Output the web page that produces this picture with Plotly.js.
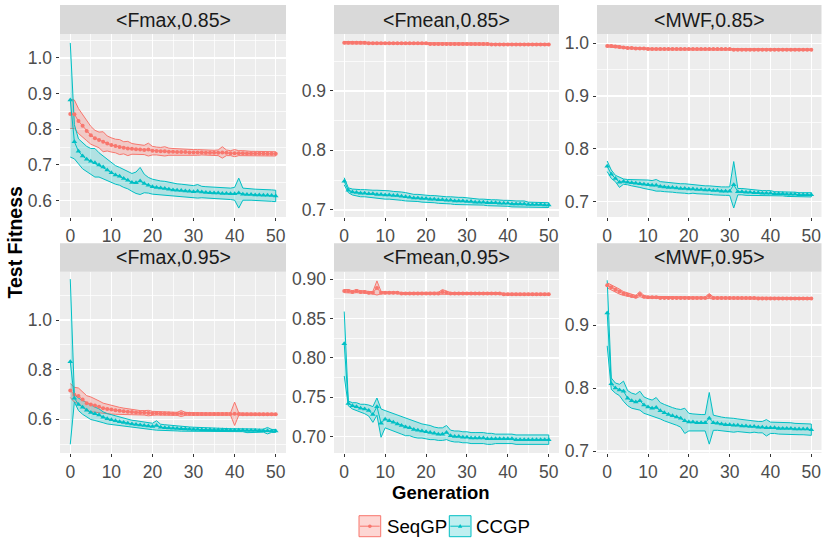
<!DOCTYPE html>
<html>
<head>
<meta charset="utf-8">
<script src="https://cdn.plot.ly/plotly-3.0.1.min.js"></script>
<style>html,body{margin:0;padding:0;background:#fff;}#chart{width:822px;height:541px;}</style>
</head>
<body>
<div id="chart"></div>
<script>
// ---------------- DATA ----------------
const gens = [0,1,2,3,4,5,6,7,8,9,10,11,12,13,14,15,16,17,18,19,20,21,22,23,24,25,26,27,28,29,30,31,32,33,34,35,36,37,38,39,40,41,42,43,44,45,46,47,48,49,50];
const seriesNames = ["SeqGP", "CCGP"];
const panelTitles = ["<Fmax,0.85>", "<Fmean,0.85>", "<MWF,0.85>", "<Fmax,0.95>", "<Fmean,0.95>", "<MWF,0.95>"];

// <Fmax,0.85>
const fmax85SeqMean = [0.843,0.842,0.823,0.810,0.795,0.783,0.775,0.770,0.765,0.760,
 0.756,0.753,0.750,0.748,0.746,0.745,0.744,0.743,0.742,0.743,
 0.740,0.739,0.738,0.738,0.737,0.737,0.736,0.736,0.736,0.735,
 0.735,0.735,0.735,0.734,0.734,0.734,0.734,0.735,0.734,0.733,
 0.733,0.733,0.733,0.732,0.732,0.732,0.732,0.732,0.731,0.731,0.731];
const fmax85SeqSd = [0.041,0.040,0.035,0.031,0.027,0.025,0.022,0.022,0.028,0.021,
 0.020,0.019,0.021,0.017,0.020,0.015,0.014,0.014,0.013,0.018,
 0.012,0.011,0.011,0.013,0.010,0.009,0.009,0.008,0.008,0.008,
 0.008,0.008,0.007,0.007,0.007,0.007,0.008,0.016,0.008,0.007,
 0.010,0.007,0.007,0.006,0.006,0.006,0.006,0.006,0.006,0.006,0.006];
const fmax85CcMean = [0.882,0.765,0.738,0.725,0.716,0.710,0.706,0.700,0.694,0.686,
 0.678,0.672,0.668,0.662,0.657,0.651,0.650,0.655,0.648,0.643,
 0.639,0.637,0.635,0.634,0.632,0.630,0.629,0.628,0.627,0.626,
 0.625,0.626,0.624,0.623,0.622,0.621,0.621,0.620,0.620,0.619,
 0.619,0.621,0.618,0.617,0.617,0.616,0.616,0.615,0.615,0.614,0.613];
const fmax85CcSd = [0.160,0.048,0.035,0.036,0.036,0.036,0.040,0.034,0.031,0.029,
 0.027,0.026,0.025,0.025,0.024,0.025,0.030,0.038,0.026,0.022,
 0.021,0.020,0.020,0.020,0.019,0.018,0.018,0.018,0.017,0.017,
 0.017,0.019,0.016,0.016,0.016,0.016,0.016,0.017,0.016,0.016,
 0.018,0.042,0.017,0.016,0.016,0.016,0.016,0.016,0.016,0.016,0.016];

// <Fmean,0.85>
const fmean85SeqMean = [0.981,0.981,0.981,0.981,0.981,0.981,0.980,0.980,0.980,0.980,
 0.980,0.980,0.980,0.980,0.980,0.980,0.980,0.980,0.980,0.980,
 0.980,0.979,0.979,0.979,0.979,0.979,0.979,0.979,0.979,0.979,
 0.979,0.979,0.979,0.979,0.979,0.979,0.978,0.978,0.978,0.978,
 0.978,0.978,0.978,0.978,0.978,0.978,0.978,0.978,0.978,0.978,0.978];
const fmean85SeqSd = [0.002,0.002,0.002,0.002,0.0015,0.0015,0.0015,0.0015,0.0015,0.0015,
 0.0015,0.0015,0.0015,0.0015,0.0015,0.0015,0.0015,0.0015,0.0015,0.0015,
 0.0015,0.0015,0.0015,0.0015,0.0015,0.0015,0.0015,0.0015,0.0015,0.0015,
 0.0015,0.0015,0.0015,0.0015,0.0015,0.0015,0.0015,0.0015,0.0015,0.0015,
 0.0015,0.0015,0.0015,0.0015,0.0015,0.0015,0.0015,0.0015,0.0015,0.0015,0.0015];
const fmean85CcMean = [0.748,0.733,0.730,0.729,0.728,0.728,0.727,0.727,0.726,0.726,
 0.725,0.725,0.724,0.724,0.723,0.722,0.721,0.720,0.720,0.719,
 0.719,0.718,0.718,0.717,0.717,0.716,0.716,0.715,0.715,0.715,
 0.714,0.714,0.713,0.713,0.713,0.712,0.712,0.712,0.711,0.711,
 0.711,0.710,0.710,0.710,0.710,0.709,0.709,0.709,0.709,0.708,0.708];
const fmean85CcSd = [0.006,0.004,0.005,0.005,0.006,0.006,0.006,0.006,0.007,0.007,
 0.007,0.007,0.007,0.007,0.007,0.007,0.006,0.006,0.006,0.006,
 0.006,0.006,0.006,0.006,0.006,0.006,0.006,0.006,0.006,0.006,
 0.006,0.005,0.005,0.005,0.005,0.005,0.005,0.005,0.005,0.005,
 0.005,0.005,0.005,0.005,0.005,0.004,0.004,0.004,0.004,0.004,0.004];

// <MWF,0.85>
const mwf85SeqMean = [0.995,0.995,0.994,0.993,0.992,0.991,0.991,0.990,0.990,0.990,
 0.989,0.989,0.989,0.989,0.989,0.989,0.989,0.989,0.989,0.989,
 0.989,0.989,0.989,0.989,0.989,0.989,0.989,0.989,0.989,0.989,
 0.989,0.988,0.988,0.988,0.988,0.988,0.988,0.988,0.988,0.988,
 0.988,0.988,0.988,0.988,0.988,0.988,0.988,0.988,0.988,0.988,0.988];
const mwf85SeqSd = [0.002,0.002,0.002,0.002,0.0015,0.0015,0.0015,0.0015,0.0015,0.0015,
 0.0015,0.0015,0.0015,0.0015,0.0015,0.0015,0.0015,0.0015,0.0015,0.0015,
 0.0015,0.0015,0.0015,0.0015,0.0015,0.0015,0.0015,0.0015,0.0015,0.0015,
 0.0015,0.0015,0.0015,0.0015,0.0015,0.0015,0.0015,0.0015,0.0015,0.0015,
 0.0015,0.0015,0.0015,0.0015,0.0015,0.0015,0.0015,0.0015,0.0015,0.0015,0.0015];
const mwf85CcMean = [0.767,0.752,0.744,0.737,0.738,0.737,0.736,0.735,0.734,0.733,
 0.732,0.731,0.731,0.729,0.728,0.727,0.727,0.726,0.725,0.725,
 0.724,0.724,0.723,0.723,0.722,0.722,0.721,0.721,0.720,0.720,
 0.720,0.732,0.719,0.719,0.718,0.718,0.717,0.717,0.716,0.716,
 0.716,0.715,0.715,0.715,0.714,0.714,0.714,0.713,0.713,0.713,0.713];
const mwf85CcSd = [0.010,0.008,0.006,0.010,0.005,0.005,0.006,0.007,0.007,0.008,
 0.009,0.009,0.011,0.009,0.009,0.009,0.009,0.009,0.009,0.009,
 0.009,0.008,0.008,0.008,0.008,0.008,0.008,0.008,0.008,0.008,
 0.008,0.044,0.006,0.006,0.006,0.006,0.005,0.005,0.005,0.005,
 0.005,0.004,0.004,0.004,0.004,0.004,0.004,0.004,0.004,0.004,0.004];

// <Fmax,0.95>
const fmax95SeqMean = [0.716,0.699,0.694,0.680,0.665,0.660,0.656,0.650,0.644,0.641,
 0.639,0.636,0.634,0.632,0.630,0.629,0.627,0.626,0.626,0.625,
 0.624,0.624,0.623,0.623,0.623,0.622,0.622,0.623,0.622,0.622,
 0.621,0.621,0.621,0.621,0.621,0.621,0.621,0.621,0.621,0.621,
 0.622,0.621,0.620,0.620,0.620,0.620,0.620,0.620,0.620,0.620,0.620];
const fmax95SeqSd = [0.028,0.030,0.032,0.031,0.030,0.030,0.027,0.024,0.021,0.019,
 0.018,0.016,0.014,0.013,0.012,0.011,0.010,0.009,0.009,0.011,
 0.008,0.007,0.007,0.006,0.006,0.006,0.006,0.012,0.006,0.005,
 0.005,0.005,0.005,0.005,0.005,0.005,0.005,0.005,0.005,0.005,
 0.047,0.005,0.005,0.005,0.005,0.004,0.004,0.004,0.004,0.004,0.004];
const fmax95CcMean = [0.832,0.685,0.660,0.648,0.636,0.627,0.622,0.617,0.608,0.602,
 0.598,0.594,0.590,0.587,0.584,0.581,0.579,0.577,0.575,0.573,
 0.571,0.575,0.568,0.566,0.565,0.564,0.563,0.562,0.561,0.560,
 0.559,0.559,0.558,0.558,0.558,0.557,0.557,0.557,0.557,0.556,
 0.556,0.556,0.556,0.555,0.555,0.555,0.554,0.554,0.554,0.553,0.553];
const fmax95CcSd = [0.333,0.015,0.025,0.028,0.028,0.028,0.027,0.025,0.022,0.021,
 0.020,0.019,0.018,0.017,0.016,0.015,0.015,0.014,0.014,0.013,
 0.013,0.019,0.012,0.012,0.011,0.011,0.010,0.010,0.010,0.009,
 0.009,0.008,0.008,0.007,0.007,0.007,0.008,0.006,0.006,0.006,
 0.006,0.006,0.006,0.009,0.006,0.006,0.006,0.006,0.013,0.006,0.006];

// <Fmean,0.95>
const fmean95SeqMean = [0.885,0.885,0.884,0.885,0.884,0.884,0.883,0.883,0.889,0.883,
 0.883,0.883,0.883,0.883,0.882,0.882,0.882,0.882,0.882,0.882,
 0.882,0.882,0.882,0.882,0.884,0.883,0.882,0.882,0.882,0.882,
 0.882,0.882,0.882,0.882,0.882,0.882,0.882,0.882,0.882,0.881,
 0.881,0.881,0.881,0.881,0.881,0.881,0.881,0.881,0.881,0.881,0.881];
const fmean95SeqSd = [0.002,0.002,0.0015,0.002,0.0015,0.0015,0.0015,0.0015,0.009,0.0015,
 0.0012,0.0012,0.0012,0.0012,0.0012,0.0012,0.0012,0.0012,0.0012,0.0012,
 0.0012,0.0012,0.0012,0.0015,0.003,0.002,0.0012,0.0012,0.0012,0.0012,
 0.0012,0.0012,0.0012,0.0012,0.0012,0.0015,0.002,0.0012,0.0012,0.0012,
 0.0012,0.0012,0.0012,0.0012,0.0012,0.0012,0.0012,0.0012,0.0012,0.0012,0.0012];
const fmean95CcMean = [0.818,0.742,0.739,0.738,0.736,0.735,0.733,0.728,0.738,0.717,
 0.722,0.720,0.718,0.716,0.714,0.712,0.711,0.709,0.708,0.707,
 0.706,0.705,0.704,0.703,0.703,0.705,0.701,0.700,0.700,0.699,
 0.699,0.698,0.698,0.698,0.698,0.697,0.697,0.697,0.697,0.697,
 0.697,0.697,0.696,0.696,0.696,0.696,0.696,0.696,0.696,0.696,0.696];
const fmean95CcSd = [0.041,0.003,0.004,0.005,0.005,0.006,0.007,0.010,0.011,0.018,
 0.011,0.011,0.011,0.011,0.011,0.011,0.010,0.010,0.010,0.009,
 0.009,0.009,0.008,0.008,0.008,0.009,0.007,0.007,0.007,0.007,
 0.007,0.007,0.007,0.007,0.007,0.007,0.007,0.006,0.006,0.006,
 0.006,0.006,0.006,0.006,0.006,0.006,0.006,0.006,0.006,0.006,0.006];

// <MWF,0.95>
const mwf95SeqMean = [0.963,0.960,0.956,0.953,0.950,0.948,0.946,0.945,0.949,0.945,
 0.944,0.944,0.944,0.943,0.943,0.943,0.943,0.943,0.943,0.943,
 0.943,0.943,0.943,0.943,0.943,0.946,0.943,0.943,0.943,0.943,
 0.943,0.943,0.943,0.943,0.943,0.943,0.943,0.942,0.942,0.942,
 0.942,0.942,0.942,0.942,0.942,0.942,0.942,0.942,0.942,0.942,0.942];
const mwf95SeqSd = [0.004,0.004,0.004,0.004,0.003,0.003,0.002,0.002,0.004,0.002,
 0.0015,0.0015,0.0015,0.0015,0.0015,0.0015,0.0015,0.0015,0.0015,0.0015,
 0.0015,0.0015,0.0015,0.0015,0.0015,0.004,0.0015,0.0015,0.0015,0.0015,
 0.0015,0.0015,0.0015,0.0015,0.0015,0.0015,0.0015,0.0015,0.0015,0.0015,
 0.0015,0.0015,0.0015,0.0015,0.0015,0.0015,0.0015,0.0015,0.0015,0.0015,0.0015];
const mwf95CcMean = [0.919,0.807,0.800,0.797,0.795,0.784,0.780,0.778,0.780,0.773,
 0.770,0.768,0.769,0.764,0.761,0.758,0.756,0.754,0.752,0.748,
 0.746,0.746,0.745,0.745,0.745,0.752,0.745,0.744,0.743,0.742,
 0.742,0.741,0.741,0.740,0.740,0.739,0.739,0.738,0.738,0.737,
 0.737,0.737,0.736,0.736,0.736,0.736,0.735,0.735,0.735,0.735,0.734];
const mwf95CcSd = [0.052,0.009,0.008,0.009,0.016,0.012,0.012,0.012,0.015,0.013,
 0.013,0.013,0.016,0.013,0.013,0.013,0.013,0.013,0.014,0.020,
 0.014,0.013,0.013,0.013,0.013,0.041,0.012,0.011,0.011,0.011,
 0.011,0.011,0.010,0.010,0.010,0.010,0.009,0.009,0.009,0.013,
 0.009,0.009,0.009,0.009,0.009,0.009,0.009,0.009,0.009,0.009,0.009];

const xTickVals = [0,10,20,30,40,50];

// ---------------- LAYOUT / STYLE ----------------
const W = 822, H = 541;
const px = x => x / W;
const py = y => 1 - y / H;
const FONT = "Liberation Sans, Arial, Helvetica, sans-serif";
const colors = ["#F8766D", "#00BFC4"];
const fills = ["rgba(248,118,109,0.30)", "rgba(0,191,196,0.25)"];
const symbols = ["circle", "triangle-up"];

const colsPx = [[60, 286], [334, 559], [597, 821.5]];
const rowsPx = [{strip: [5, 34], plot: [34, 217]}, {strip: [243.3, 271.7], plot: [271.7, 453]}];

const panels = [
  {seq: [fmax85SeqMean, fmax85SeqSd], cc: [fmax85CcMean, fmax85CcSd], range: [0.554, 1.067], dtick: 0.1, fmt: ".1f"},
  {seq: [fmean85SeqMean, fmean85SeqSd], cc: [fmean85CcMean, fmean85CcSd], range: [0.688, 0.9956], dtick: 0.1, fmt: ".1f"},
  {seq: [mwf85SeqMean, mwf85SeqSd], cc: [mwf85CcMean, mwf85CcSd], range: [0.671, 1.0176], dtick: 0.1, fmt: ".1f"},
  {seq: [fmax95SeqMean, fmax95SeqSd], cc: [fmax95CcMean, fmax95CcSd], range: [0.464, 1.195], dtick: 0.2, fmt: ".1f"},
  {seq: [fmean95SeqMean, fmean95SeqSd], cc: [fmean95CcMean, fmean95CcSd], range: [0.679, 0.9097], dtick: 0.05, fmt: ".2f"},
  {seq: [mwf95SeqMean, mwf95SeqSd], cc: [mwf95CcMean, mwf95CcSd], range: [0.697, 0.9846], dtick: 0.1, fmt: ".1f"}
];

const traces = [];
const layout = {
  width: W, height: H,
  margin: {l: 0, r: 0, t: 0, b: 0, pad: 0},
  paper_bgcolor: "#FFFFFF",
  plot_bgcolor: "#EDEDED",
  showlegend: false,
  font: {family: FONT, color: "#4D4D4D"},
  shapes: [],
  annotations: []
};

panels.forEach((p, i) => {
  const k = i + 1;
  const xa = "x" + (k === 1 ? "" : k), ya = "y" + (k === 1 ? "" : k);
  const col = colsPx[i % 3], row = rowsPx[Math.floor(i / 3)];
  const grp = [p.seq, p.cc];
  grp.forEach((s, j) => {
    const [m, sd] = s;
    const upper = m.map((v, t) => v + sd[t]);
    const lower = m.map((v, t) => v - sd[t]);
    traces.push({
      type: "scatter", mode: "lines", xaxis: xa, yaxis: ya,
      x: gens.concat(gens.slice().reverse()),
      y: upper.concat(lower.slice().reverse()),
      fill: "toself", fillcolor: fills[j],
      line: {color: colors[j], width: 1},
      hoverinfo: "skip", name: seriesNames[j]
    });
  });
  grp.forEach((s, j) => {
    traces.push({
      type: "scatter", mode: "lines+markers", xaxis: xa, yaxis: ya,
      x: gens, y: s[0],
      line: {color: colors[j], width: 1},
      marker: {symbol: symbols[j], size: j === 0 ? 4 : 5, color: colors[j]},
      name: seriesNames[j]
    });
  });
  layout["xaxis" + (k === 1 ? "" : k)] = {
    domain: [px(col[0]), px(col[1])],
    anchor: ya, range: [-2.5, 52.5],
    tickmode: "array", tickvals: xTickVals,
    showgrid: true, gridcolor: "#FFFFFF", gridwidth: 1.4,
    minor: {dtick: 5, tick0: 0, showgrid: true, gridcolor: "#FFFFFF", gridwidth: 0.7, ticks: ""},
    ticks: "outside", ticklen: 2.5, tickwidth: 1, tickcolor: "#333333",
    tickfont: {family: FONT, size: 17.5, color: "#4D4D4D"},
    zeroline: false, showline: false, fixedrange: true
  };
  layout["yaxis" + (k === 1 ? "" : k)] = {
    domain: [py(row.plot[1]), py(row.plot[0])],
    anchor: xa, range: p.range,
    tickmode: "linear", tick0: 0, dtick: p.dtick, tickformat: p.fmt,
    showgrid: true, gridcolor: "#FFFFFF", gridwidth: 1.4,
    minor: {dtick: p.dtick / 2, tick0: 0, showgrid: true, gridcolor: "#FFFFFF", gridwidth: 0.7, ticks: ""},
    ticks: "outside", ticklen: 3.5, tickwidth: 1, tickcolor: "#333333",
    tickfont: {family: FONT, size: 17.5, color: "#4D4D4D"},
    zeroline: false, showline: false, fixedrange: true
  };
  layout.shapes.push({
    type: "rect", xref: "paper", yref: "paper", layer: "below",
    x0: px(col[0]), x1: px(col[1]), y0: py(row.strip[1]), y1: py(row.strip[0]),
    fillcolor: "#D9D9D9", line: {width: 0}
  });
  layout.annotations.push({
    xref: "paper", yref: "paper", showarrow: false,
    x: px((col[0] + col[1]) / 2), y: py((row.strip[0] + row.strip[1]) / 2),
    xanchor: "center", yanchor: "middle",
    text: panelTitles[i].replace(/</g, "&lt;").replace(/>/g, "&gt;"),
    font: {family: FONT, size: 19.5, color: "#1A1A1A"}
  });
});

layout.annotations.push({
  xref: "paper", yref: "paper", showarrow: false,
  x: px(14.5), y: py(243), xanchor: "center", yanchor: "middle", textangle: -90,
  text: "<b>Test Fitness</b>", font: {family: FONT, size: 19.5, color: "#000000"}
});
layout.annotations.push({
  xref: "paper", yref: "paper", showarrow: false,
  x: px(441), y: py(492), xanchor: "center", yanchor: "middle",
  text: "<b>Generation</b>", font: {family: FONT, size: 18.5, color: "#000000"}
});

const legendKeys = [{x0: 359, x1: 380.7, tx: 385}, {x0: 449.3, x1: 471, tx: 474.3}];
const legY0 = 515.7, legY1 = 536.7, legYc = (legY0 + legY1) / 2;
legendKeys.forEach((lk, j) => {
  layout.shapes.push({
    type: "rect", xref: "paper", yref: "paper",
    x0: px(lk.x0), x1: px(lk.x1), y0: py(legY1), y1: py(legY0),
    fillcolor: fills[j], line: {color: colors[j], width: 1}
  });
  layout.shapes.push({
    type: "line", xref: "paper", yref: "paper",
    x0: px(lk.x0 + 1), x1: px(lk.x1 - 1), y0: py(legYc), y1: py(legYc),
    line: {color: colors[j], width: 1}
  });
  const cx = (lk.x0 + lk.x1) / 2;
  if (j === 0) {
    layout.shapes.push({
      type: "circle", xref: "paper", yref: "paper",
      x0: px(cx - 1.8), x1: px(cx + 1.8), y0: py(legYc + 1.8), y1: py(legYc - 1.8),
      fillcolor: colors[j], line: {color: colors[j], width: 0}
    });
  } else {
    const pth = "M" + px(cx - 2.2) + "," + py(legYc + 1.6) + " L" + px(cx + 2.2) + "," + py(legYc + 1.6) + " L" + px(cx) + "," + py(legYc - 2.2) + " Z";
    layout.shapes.push({
      type: "path", xref: "paper", yref: "paper", path: pth,
      fillcolor: colors[j], line: {color: colors[j], width: 0}
    });
  }
  layout.annotations.push({
    xref: "paper", yref: "paper", showarrow: false,
    x: px(lk.tx), y: py(legYc), xanchor: "left", yanchor: "middle",
    text: seriesNames[j], font: {family: FONT, size: 18.7, color: "#000000"}
  });
});

Plotly.newPlot("chart", traces, layout, {staticPlot: true, displayModeBar: false});
</script>
</body>
</html>
